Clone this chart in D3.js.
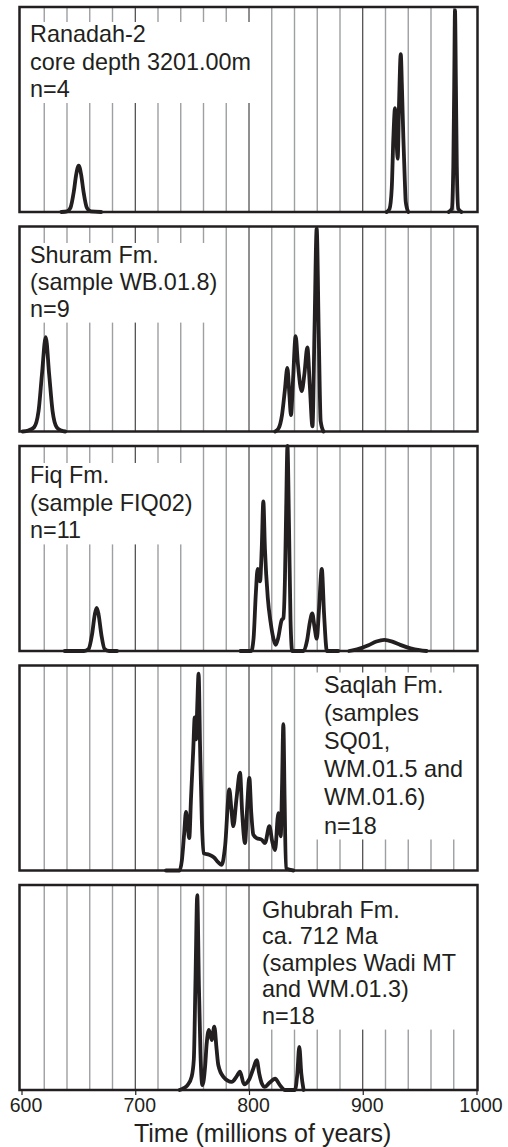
<!DOCTYPE html>
<html>
<head>
<meta charset="utf-8">
<script src="https://cdn.jsdelivr.net/npm/d3@7"></script>
<style>
  body { margin: 0; background: #fff; }
  svg { display: block; }
  text { font-family: "Liberation Sans", Arial, Helvetica, sans-serif; fill: #231f20; }
</style>
</head>
<body>
<svg id="chart" width="508" height="1147"></svg>
<script>
// age axis (Ma)
const ageDomain = [600, 1000];
const ageTicks = [600, 700, 800, 900, 1000];
const gridStep = 20;

// panel captions, top to bottom
const captions = [
    ["Ranadah-2", "core depth 3201.00m", "n=4"],
    ["Shuram Fm.", "(sample WB.01.8)", "n=9"],
    ["Fiq Fm.", "(sample FIQ02)", "n=11"],
    ["Saqlah Fm.", "(samples", "SQ01,", "WM.01.5 and", "WM.01.6)", "n=18"],
    ["Ghubrah Fm.", "ca. 712 Ma", "(samples Wadi MT", "and WM.01.3)", "n=18"]
];

// relative probability curves, [age Ma, % of panel max], one array per cluster
const ranadah = [
    [[635, 0], [640, 0.3], [643, 2], [646, 10], [648, 18], [650.3, 22.6], [652.5, 18], [654.5, 10], [657.5, 2], [661, 0.3], [670, 0]],
    [[921, 0], [923.5, 1.5], [925.5, 11.7], [926.9, 36], [928.4, 50.7], [929.5, 38], [930.7, 26], [932, 55], [933.4, 77], [934.5, 60], [935.7, 36], [937, 15], [937.8, 5], [940, 0]],
    [[975.5, 0], [978.3, 1.5], [979.6, 22], [980.4, 62], [981.1, 98.5], [981.9, 62], [982.7, 22], [984, 1.5], [986.8, 0]]
];
const shuram = [
    [[601, 0], [606, 0.5], [611, 2], [615, 10], [618, 28], [621.3, 46], [624.3, 28], [627.3, 10], [631, 2], [635, 0.5], [638.5, 0]],
    [[823, 0], [826, 1.5], [829, 8], [831.5, 20], [833.7, 31], [835.5, 18], [836.9, 8], [838.7, 25], [841, 46.5], [843, 33], [846.3, 19.7], [848.7, 28], [851.3, 41], [853.5, 22], [855.8, 2.5], [857.6, 50], [859.5, 99], [861.4, 45], [863, 5], [865.5, 0]]
];
const fiq = [
    [[638, 0], [655, 0], [659, 1], [662, 8], [664.5, 18], [666.1, 21], [667.7, 18], [670.2, 8], [673, 1], [677, 0], [684, 0]],
    [[792.5, 0], [802, 0], [804, 6], [806, 28], [807.6, 40], [809.7, 34], [811.2, 50], [812.6, 73], [814, 50], [816.5, 26], [819, 14], [821.5, 6], [823.5, 3], [825.5, 6], [828.7, 15], [830.2, 16], [831.6, 35], [832.7, 70], [833.8, 100], [835.2, 60], [836.5, 15], [838, 0], [848, 0], [851, 5], [853.5, 14], [855.6, 18.4], [857.5, 12], [859.6, 6], [861.5, 20], [864, 40], [866, 18], [868.5, 0], [878.5, 0]],
    [[888, 0], [895, 0.8], [905, 2.8], [912, 4.6], [919, 5.4], [926, 4.6], [933, 3], [942, 1.3], [950, 0.4], [956, 0]]
];
const saqlah = [
    [[727, 0], [739, 0], [741, 5], [743, 18], [744.6, 28.6], [746, 22], [747.5, 15.8], [749, 35], [751, 59], [752.3, 74.7], [753.5, 64], [754.5, 80], [755.7, 96], [757, 60], [758.5, 25], [760, 8.5], [765, 7.7], [769, 6.5], [773, 4], [776, 2.8], [779, 12], [782.7, 39.5], [784.5, 30], [786.2, 21.6], [789, 35], [792.1, 47.7], [794, 28], [796.5, 13.4], [798.3, 30], [800.3, 45.2], [802, 28], [803.8, 17.5], [806.8, 15.8], [811.2, 15], [814.1, 13.4], [817.9, 21.6], [820.5, 14], [822.9, 10], [825.8, 28], [827.9, 16.7], [829, 40], [830.2, 71.4], [831.3, 35], [832.5, 1], [839, 0]]
];
const ghubrah = [
    [[739, 0], [743, 1], [746, 2.4], [749.6, 6.5], [751.5, 15], [753, 55], [754.5, 95], [756, 50], [757.3, 18.7], [759, 2.4], [761.5, 12], [762.7, 22], [764.8, 29.3], [767.2, 24.4], [769.5, 30.9], [771.5, 20], [773, 12.2], [777.4, 6.5], [784.8, 4], [789, 6.5], [792.1, 9], [795.6, 2.8], [800, 5], [803.5, 10], [806.8, 14.6], [809, 8], [811.2, 3.3], [814, 1.5], [818, 3.5], [822.9, 5.5], [827, 2.5], [831.6, 0], [840.4, 0], [842.5, 8], [844.2, 21], [846, 8], [848, 0]]
];
const curves = [ranadah, shuram, fiq, saqlah, ghubrah];

// caption placement: side of panel, text start, first baseline, line gap, box reaches top edge
const captionLayout = [
    { side: "left", tx: 30, ty: 35, gap: 27.5, toTop: false },
    { side: "left", tx: 30, ty: 36.5, gap: 26.8, toTop: false },
    { side: "left", tx: 30, ty: 37, gap: 27.7, toTop: false },
    { side: "right", tx: 324, ty: 27, gap: 28.2, toTop: false },
    { side: "right", tx: 262, ty: 33, gap: 26.4, toTop: true }
];

const ink = "#231f20",
    panelTop = 7,
    panelStep = 219.5,
    panelH = 205;

const svg = d3.select("#chart");
const x = d3.scaleLinear().domain(ageDomain).range([21.5, 476.5]);
const y = d3.scaleLinear().domain([0, 100]).range([panelH, 0]);
const frameL = x(ageDomain[0]) - 2,
    frameR = x(ageDomain[1]) + 1;

const line = d3.line()
    .x(d => x(d[0]))
    .y(d => y(d[1]))
    .curve(d3.curveMonotoneX);

const gridValues = d3.range(ageDomain[0] + gridStep, ageDomain[1], gridStep);

curves.forEach((segments, i) => {
    var g = svg.append("g").attr("transform", `translate(0,${panelTop + i * panelStep})`),
        lay = captionLayout[i];

    // grid
    g.selectAll("line.grid")
        .data(gridValues)
        .join("line")
        .attr("class", "grid")
        .attr("x1", d => x(d)).attr("x2", d => x(d))
        .attr("y1", 0).attr("y2", panelH)
        .attr("stroke", d => ageTicks.includes(d) ? ink : "#9d9fa2")
        .attr("stroke-width", d => ageTicks.includes(d) ? 1 : 1.4);

    // caption with white box
    var box = g.append("rect").attr("fill", "#fff");
    var label = g.append("text")
        .attr("x", lay.tx)
        .attr("y", lay.ty)
        .style("font-size", "23.4px");
    label.selectAll("tspan")
        .data(captions[i])
        .join("tspan")
        .attr("x", lay.tx)
        .attr("dy", (d, k) => k === 0 ? 0 : lay.gap)
        .text(d => d);

    var bb = label.node().getBBox(),
        bx0 = lay.side === "left" ? frameL : bb.x - 8,
        bx1 = lay.side === "left" ? bb.x + bb.width + 2 : frameR,
        by0 = lay.toTop ? 0 : bb.y + 1,
        by1 = bb.y + bb.height + 1;
    box.attr("x", bx0).attr("y", by0).attr("width", bx1 - bx0).attr("height", by1 - by0);

    // density curves
    g.selectAll("path.curve")
        .data(segments)
        .join("path")
        .attr("class", "curve")
        .attr("d", line)
        .attr("fill", "none")
        .attr("stroke", ink)
        .attr("stroke-width", 3.8)
        .attr("stroke-linejoin", "round")
        .attr("stroke-linecap", "round");

    // frame
    g.append("rect")
        .attr("x", frameL).attr("y", 0)
        .attr("width", frameR - frameL).attr("height", panelH)
        .attr("fill", "none")
        .attr("stroke", ink)
        .attr("stroke-width", 2.5);

    if (i === curves.length - 1) {
        var axis = g.append("g")
            .attr("transform", `translate(0,${panelH})`)
            .call(d3.axisBottom(x).tickValues(ageTicks).tickSize(5).tickPadding(3).tickFormat(d3.format("d")));
        axis.select(".domain").remove();
        axis.selectAll(".tick line").attr("stroke", ink).attr("stroke-width", 1.2);
        axis.selectAll(".tick text")
            .attr("dx", 4)
            .style("font-size", "19.5px")
            .style("font-family", "'Liberation Sans', Arial, sans-serif")
            .attr("fill", ink);
        g.append("text")
            .attr("x", x(812))
            .attr("y", panelH + 51.5)
            .attr("text-anchor", "middle")
            .style("font-size", "25px")
            .text("Time (millions of years)");
    }
});
</script>
</body>
</html>
